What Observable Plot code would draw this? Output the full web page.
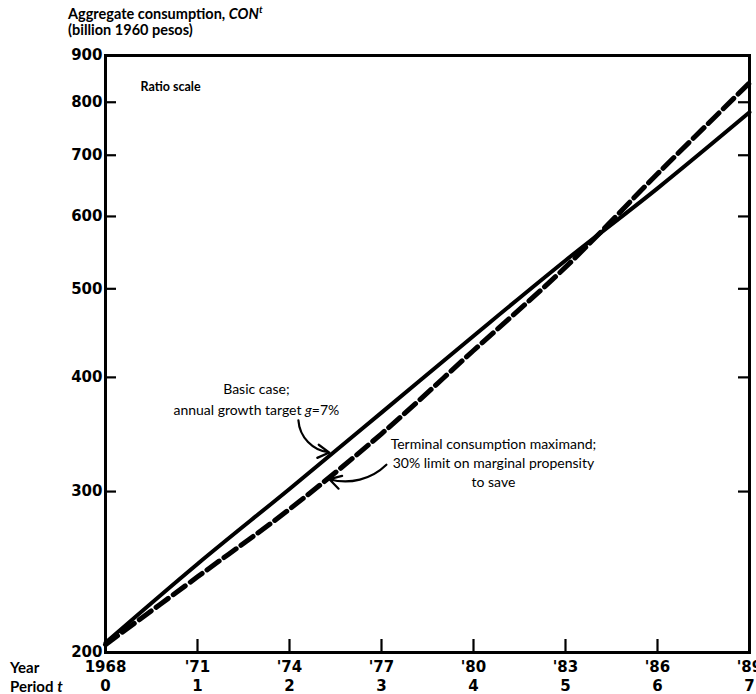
<!DOCTYPE html>
<html>
<head>
<meta charset="utf-8">
<script src="https://cdn.jsdelivr.net/npm/d3@7"></script>
<script src="https://cdn.jsdelivr.net/npm/@observablehq/plot@0.6"></script>
<style>
  html, body { margin: 0; padding: 0; background: #fff; }
  #wrap { width: 756px; height: 694px; position: relative; font-family: Lato, "DejaVu Sans", sans-serif; color: #000; }
  #title { position: absolute; left: 68px; top: 6px; font-size: 14.5px; line-height: 16px; font-weight: 700; }
  #chart { position: absolute; left: 0; top: 40px; }
</style>
</head>
<body>
<div id="wrap">
  <div id="title">Aggregate consumption, <i>CON<sup style="font-size:10px;vertical-align:6px;line-height:0">t</sup></i><br>(billion 1960 pesos)</div>
  <div id="chart"></div>
</div>
<script>
// ---- data ----
const years = [1968, 1971, 1974, 1977, 1980, 1983, 1986, 1989];
const periods = [0, 1, 2, 3, 4, 5, 6, 7];
const yearLabels = ["1968", "'71", "'74", "'77", "'80", "'83", "'86", "'89"];
const basicCase = [205, 250, 302, 366, 444, 537, 644, 780];
const terminalMax = [204, 242, 287, 347, 428, 528, 668, 840];
const yTicks = [200, 300, 400, 500, 600, 700, 800, 900];
const yInnerTicks = [300, 400, 500, 600, 700, 800];
const xInnerTicks = [1971, 1974, 1977, 1980, 1983, 1986];

const basicRows = years.map((y, i) => ({year: y, value: basicCase[i]}));
const termRows = years.map((y, i) => ({year: y, value: terminalMax[i]}));

// annotations (data coordinates)
const notes = [
  {year: 1972.92, value: 380, text: "Basic case;\nannual growth target g=7%", lh: 1.5},
  {year: 1980.65, value: 323, text: "Terminal consumption maximand;\n30% limit on marginal propensity\nto save", lh: 1.36}
];
const arrowBasic = [{x1: 1974.29, y1: 359, x2: 1975.30, y2: 331}];
const arrowTerm = [{x1: 1977.16, y1: 321, x2: 1975.30, y2: 309.5}];

const W = 756, H = 654, mL = 105, mR = 7, mT = 15, mB = 42;
const plotW = W - mL - mR, plotH = H - mT - mB;
const FONT = "Lato, 'DejaVu Sans', sans-serif";
const NUMFONT = "'DejaVu Sans', sans-serif";

const chart = Plot.plot({
  width: W, height: H,
  marginLeft: mL, marginRight: mR, marginTop: mT, marginBottom: mB,
  style: {fontFamily: FONT, background: "#fff", color: "#000", overflow: "visible"},
  x: {domain: [1968, 1989]},
  y: {type: "log", domain: [200, 900]},
  marks: [
    Plot.ruleY(yInnerTicks, {y: d => d, insetRight: plotW - 11, strokeWidth: 2.2}),
    Plot.ruleY(yInnerTicks, {y: d => d, insetLeft: plotW - 11, strokeWidth: 2.2}),
    Plot.ruleX(xInnerTicks, {x: d => d, insetTop: plotH - 13, strokeWidth: 2.2}),
    Plot.frame({strokeWidth: 3}),
    Plot.line(basicRows, {x: "year", y: "value", strokeWidth: 4, curve: "catmull-rom"}),
    Plot.line(termRows, {x: "year", y: "value", strokeWidth: 5, strokeDasharray: "15,6", curve: "catmull-rom"}),
    Plot.axisY(yTicks, {tickSize: 0, tickPadding: 3, fontSize: 15, fontWeight: "bold", fontFamily: NUMFONT, label: null, tickFormat: d => String(d)}),
    Plot.axisX(years, {tickSize: 0, tickPadding: 9, fontSize: 15, fontWeight: "bold", fontFamily: NUMFONT, label: null, tickFormat: d => yearLabels[years.indexOf(d)]}),
    Plot.axisX(years, {tickSize: 0, tickPadding: 28, fontSize: 15, fontWeight: "bold", fontFamily: NUMFONT, label: null, tickFormat: d => String(periods[years.indexOf(d)])}),
    Plot.text(["Ratio scale"], {frameAnchor: "top-left", dx: 35, dy: 27, fontSize: 12.5, fontWeight: "bold", textAnchor: "start"}),
    Plot.text([notes[0]], {x: "year", y: "value", text: "text", lineHeight: notes[0].lh, fontSize: 14, textAnchor: "middle"}),
    Plot.text([notes[1]], {x: "year", y: "value", text: "text", lineHeight: notes[1].lh, fontSize: 14, textAnchor: "middle"}),
    Plot.arrow(arrowBasic, {x1: "x1", y1: "y1", x2: "x2", y2: "y2", bend: -40, strokeWidth: 2.2, headLength: 9}),
    Plot.arrow(arrowTerm, {x1: "x1", y1: "y1", x2: "x2", y2: "y2", bend: 30, strokeWidth: 2.2, headLength: 9})
  ]
});

document.getElementById("chart").appendChild(chart);

// italic "g" in the annotation
d3.select(chart).selectAll("tspan, text").each(function() {
  const el = d3.select(this);
  if (this.childElementCount === 0 && el.text() === "annual growth target g=7%") {
    el.text("annual growth target ");
    el.append("tspan").attr("font-style", "italic").text("g");
    el.append("tspan").text("=7%");
  }
});

// row captions for the x axis
const svg = d3.select(chart);
svg.append("text").attr("x", 10).attr("y", 633).attr("font-size", 15).attr("font-weight", "bold")
  .attr("text-anchor", "start").attr("font-family", FONT).text("Year");
const pt = svg.append("text").attr("x", 10).attr("y", 652).attr("font-size", 15).attr("font-weight", "bold")
  .attr("text-anchor", "start").attr("font-family", FONT);
pt.append("tspan").text("Period ");
pt.append("tspan").attr("font-style", "italic").text("t");
</script>
</body>
</html>
